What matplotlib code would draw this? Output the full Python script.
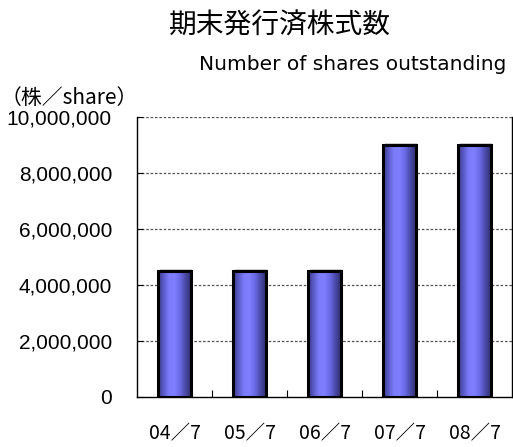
import matplotlib
matplotlib.use("Agg")
import matplotlib.pyplot as plt
import numpy as np
from matplotlib.colors import LinearSegmentedColormap
from matplotlib.patches import Rectangle

categories = ["04／7", "05／7", "06／7", "07／7", "08／7"]
values = [4500000, 4500000, 4500000, 9000000, 9000000]
yticks = [0, 2000000, 4000000, 6000000, 8000000, 10000000]
title = "期末発行済株式数"
subtitle = "Number of shares outstanding"
unit_label = "（株／share）"

CJK = ["Noto Sans CJK JP", "DejaVu Sans"]
LAT = ["Liberation Sans", "DejaVu Sans"]

fig = plt.figure(figsize=(5.13, 4.47), dpi=100)
ax = fig.add_axes([137/513, 1-397/447, (512-137)/513, (397-117)/447])

x = np.arange(len(categories))
width = 0.43
cmap = LinearSegmentedColormap.from_list(
    "barg", ["#383880", "#5a5ac8", "#7c7cfa", "#7e7eff", "#6a6ae6", "#4a4aa8", "#303070"])
grad = np.linspace(0, 1, 256).reshape(1, -1)

bars = ax.bar(x, values, width=width, color="none", edgecolor="black", linewidth=2.2, zorder=4)
for b in bars:
    bx, by, bw, bh = b.get_x(), b.get_y(), b.get_width(), b.get_height()
    sh = Rectangle((bx + 0.015, by), bw, bh + 70000, facecolor="#d0d0d0", edgecolor="none", zorder=2)
    ax.add_patch(sh)
    im = ax.imshow(grad, cmap=cmap, aspect="auto", extent=[bx, bx + bw, by, by + bh], zorder=3,
                   interpolation="bilinear")
    clip = Rectangle((bx, by), bw, bh, transform=ax.transData)
    im.set_clip_path(clip)

ax.set_xlim(-0.5, len(categories) - 0.5)
ax.set_ylim(0, 10000000)
ax.set_yticks(yticks)
ax.set_yticklabels([f"{v:,}" for v in yticks], fontsize=15, family=LAT)
ax.set_xticks(x)
ax.set_xticklabels(categories, fontsize=14, family=CJK)
ax.tick_params(axis="x", length=0, pad=19)
ax.set_xticks(np.arange(0.5, len(categories) - 0.5, 1), minor=True)
ax.tick_params(axis="x", which="minor", direction="in", length=5, width=0.8)
ax.tick_params(axis="y", direction="in", length=4, width=0.8, pad=18)

for v in yticks[1:]:
    ax.axhline(v, color="#505050", linestyle=(0, (2, 1.5)), linewidth=0.9, zorder=1)

ax.spines["top"].set_visible(False)
for s in ["left", "bottom", "right"]:
    ax.spines[s].set_linewidth(1.0)
    ax.spines[s].set_color("black")

fig.text(280/513, 1-26/447, title, fontsize=20, family=CJK, ha="center", va="center")
fig.text(353/513, 1-64/447, subtitle, fontsize=14.5, family=["DejaVu Sans"], ha="center", va="center")
fig.text(1/513, 1-98/447, unit_label, fontsize=15, family=CJK, ha="left", va="center")

fig.savefig("out.png", dpi=100)
